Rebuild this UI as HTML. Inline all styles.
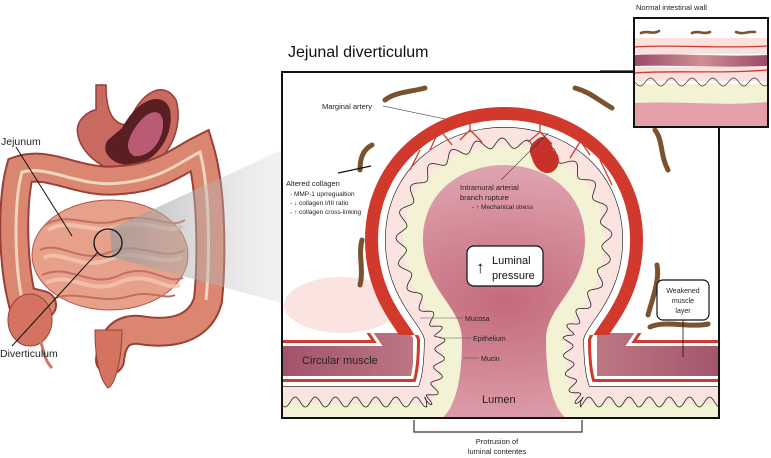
<!DOCTYPE html>
<html><head><meta charset="utf-8"><style>
html,body{margin:0;padding:0;background:#fff;}
svg{display:block;font-family:"Liberation Sans",sans-serif;}
</style></head><body>
<svg id="s" width="771" height="458" viewBox="0 0 771 458" xmlns="http://www.w3.org/2000/svg">
<defs>
<radialGradient id="lum" cx="0.5" cy="0.45" r="0.6"><stop offset="0" stop-color="#c46a7c"/><stop offset="1" stop-color="#e9b8bf"/></radialGradient>
<linearGradient id="mus" x1="0" x2="1"><stop offset="0" stop-color="#9c4a66"/><stop offset="0.5" stop-color="#cf8f92"/><stop offset="1" stop-color="#9c4a66"/></linearGradient>
<linearGradient id="wedge" x1="0" x2="1"><stop offset="0" stop-color="#999" stop-opacity="0.7"/><stop offset="1" stop-color="#ccc" stop-opacity="0.25"/></linearGradient>
<clipPath id="box"><rect x="283" y="73" width="436" height="344"/></clipPath>
<clipPath id="bot"><path d="M283,333 L413,333 L413,417 L283,417 Z M597,333 L719,333 L719,417 L597,417 Z"/></clipPath>
<clipPath id="dome"><rect x="283" y="73" width="436" height="262"/></clipPath>
</defs>

<g>
<path d="M96,85 L106,85 C106,110 112,125 128,125 C140,90 165,80 176,100 C185,130 165,172 128,172 C100,172 80,150 78,135 C74,120 90,110 96,110 Z" fill="#c86a60" stroke="#9a3d36" stroke-width="1.5"/>
<path d="M122,128 C140,95 165,92 170,110 C175,135 155,165 130,165 C110,165 100,150 108,140 Z" fill="#5a1f22"/>
<path d="M135,128 C148,108 162,108 163,122 C164,140 150,158 134,156 C124,150 128,138 135,128 Z" fill="#b95b72"/>
<path d="M42,305 L22,300 C12,260 12,200 20,170 C50,160 80,185 120,180 C160,178 180,160 200,150 C212,190 212,260 208,300 C200,330 170,335 140,330 C120,328 112,340 110,360" fill="none" stroke="#9a4038" stroke-width="30" stroke-linecap="round"/>
<path d="M42,305 L22,300 C12,260 12,200 20,170 C50,160 80,185 120,180 C160,178 180,160 200,150 C212,190 212,260 208,300 C200,330 170,335 140,330 C120,328 112,340 110,360" fill="none" stroke="#db8670" stroke-width="26" stroke-linecap="round" stroke-dasharray="11 2"/>
<path d="M22,300 C14,260 14,200 22,172 C50,165 80,188 120,183 C160,180 180,162 200,152 C210,190 210,260 206,300" fill="none" stroke="#f0d6bc" stroke-width="3"/>
<ellipse cx="30" cy="320" rx="22" ry="26" fill="#d4735f" stroke="#9a4038"/>
<path d="M95,330 C95,360 100,380 108,388 C115,385 122,360 122,330 Z" fill="#d4735f" stroke="#9a4038"/>
<path d="M40,340 C44,350 44,360 52,368" fill="none" stroke="#c77b6a" stroke-width="3"/>
<ellipse cx="110" cy="255" rx="78" ry="55" fill="#e7a08a" stroke="#b0584a"/>
<g fill="none" stroke="#c0705f" stroke-width="2">
<path d="M45,225 C70,210 90,230 120,220 C150,212 170,230 185,220"/>
<path d="M40,250 C60,240 80,265 110,252 C140,240 160,262 185,250"/>
<path d="M42,275 C70,262 90,290 120,275 C150,262 165,285 183,278"/>
<path d="M55,298 C80,290 100,305 130,296 C150,290 165,300 175,295"/>
</g>
<g fill="none" stroke="#f5c6b2" stroke-width="4" opacity="0.8">
<path d="M48,230 C70,216 90,236 120,226 C150,218 168,236 182,226"/>
<path d="M44,258 C60,248 80,272 110,259 C140,247 160,268 182,257"/>
<path d="M46,283 C70,270 90,297 120,282 C150,270 165,292 180,285"/>
</g>
<path d="M110,229 L282,150 L282,303 L112,257 Z" fill="url(#wedge)"/>
<circle cx="108" cy="243" r="14" fill="none" stroke="#111" stroke-width="1.3"/>
<line x1="16" y1="147" x2="72" y2="236" stroke="#111" stroke-width="1"/>
<line x1="12" y1="346" x2="98" y2="252" stroke="#111" stroke-width="1"/>
<text x="1" y="145" font-size="10.5" fill="#222">Jejunum</text>
<text x="0" y="357" font-size="10.5" fill="#222">Diverticulum</text>
</g>

<text x="288" y="57" font-size="16" fill="#111">Jejunal diverticulum</text>
<rect x="282" y="72" width="437" height="346" fill="#fff" stroke="#111" stroke-width="2"/>
<g clip-path="url(#box)">
<ellipse cx="342" cy="305" rx="58" ry="28" fill="#fbe3df"/>
<g id="layers"></g>
</g>
<rect x="282" y="72" width="437" height="346" fill="none" stroke="#111" stroke-width="2"/>

<text x="322" y="109" font-size="7.5" fill="#222">Marginal artery</text>
<line x1="383" y1="106" x2="445" y2="119" stroke="#222" stroke-width="0.6"/>
<text x="286" y="186" font-size="7.5" fill="#222">Altered collagen</text>
<text x="290" y="196" font-size="6.5" fill="#222">- MMP-1 uprregualtion</text>
<text x="290" y="205" font-size="6.5" fill="#222">- ↓ collagen I/III ratio</text>
<text x="290" y="214" font-size="6.5" fill="#222">- ↑ collagen cross-linking</text>
<line x1="338" y1="173" x2="371" y2="166" stroke="#111" stroke-width="1.2"/>
<text x="460" y="190" font-size="7.5" fill="#222">Intramural arterial</text>
<text x="460" y="200" font-size="7.5" fill="#222">branch rupture</text>
<text x="472" y="209" font-size="6.5" fill="#222">- ↑ Mechanical stress</text>
<line x1="501" y1="180" x2="548" y2="133" stroke="#333" stroke-width="0.6"/>
<rect x="467" y="246" width="76" height="40" rx="7" fill="#fff" stroke="#111" stroke-width="1.2"/>
<text x="476" y="273" font-size="17" fill="#111">↑</text>
<text x="492" y="264" font-size="11" fill="#111">Luminal</text>
<text x="492" y="279" font-size="11" fill="#111">pressure</text>
<rect x="657" y="280" width="52" height="40" rx="6" fill="#fff" stroke="#111" stroke-width="1.2"/>
<text x="683" y="293" font-size="7" text-anchor="middle" fill="#222">Weakened</text>
<text x="683" y="303" font-size="7" text-anchor="middle" fill="#222">muscle</text>
<text x="683" y="313" font-size="7" text-anchor="middle" fill="#222">layer</text>
<line x1="683" y1="320" x2="683" y2="357" stroke="#111" stroke-width="0.8"/>
<text x="465" y="321" font-size="7" fill="#222">Mucosa</text>
<line x1="420" y1="318" x2="463" y2="318" stroke="#555" stroke-width="0.6"/>
<text x="473" y="341" font-size="7" fill="#222">Epithelium</text>
<line x1="440" y1="338" x2="471" y2="338" stroke="#555" stroke-width="0.6"/>
<text x="481" y="361" font-size="7" fill="#222">Mucin</text>
<line x1="463" y1="358" x2="479" y2="358" stroke="#555" stroke-width="0.6"/>
<text x="302" y="364" font-size="11" fill="#222">Circular muscle</text>
<text x="482" y="403" font-size="11" fill="#222">Lumen</text>
<path d="M414,420 L414,432 L582,432 L582,420" fill="none" stroke="#333" stroke-width="1.2"/>
<text x="497" y="444" font-size="7.5" text-anchor="middle" fill="#222">Protrusion of</text>
<text x="497" y="454" font-size="7.5" text-anchor="middle" fill="#222">luminal contentes</text>

<line x1="600" y1="71" x2="634" y2="71" stroke="#111" stroke-width="1.2"/>
<line x1="719" y1="127" x2="719" y2="140" stroke="#111" stroke-width="1.2"/>
<text x="636" y="10" font-size="7.5" fill="#222">Normal intestinal wall</text>
<rect x="634" y="18" width="134" height="109" fill="#fff"/>
<rect x="635" y="38" width="132" height="16" fill="#fbe1dd"/>
<path d="M635,47 C670,44 720,49 767,46" fill="none" stroke="#d0392b" stroke-width="1.3"/>
<path d="M635,55 C680,53 720,57 767,55 L767,66 C720,68 680,65 635,66 Z" fill="url(#mus)"/>
<rect x="635" y="67" width="132" height="14" fill="#fbe1dd"/>
<path d="M635,73 C670,70 720,74 767,70" fill="none" stroke="#d0392b" stroke-width="1.3"/>
<rect x="635" y="84" width="132" height="19" fill="#f4f2d4"/>
<path id="iw" d="" fill="none" stroke="#333" stroke-width="0.7"/>
<path d="M635,103 C680,101 720,106 767,102 L767,127 L635,127 Z" fill="#e3a0a8"/>
<g fill="none" stroke="#7a5230" stroke-width="2.6" stroke-linecap="round">
<path d="M641,33 C648,30 652,35 659,31"/><path d="M692,33 C699,30 703,35 710,32"/><path d="M736,32 C743,35 748,31 755,32"/>
</g>
<rect x="634" y="18" width="134" height="109" fill="none" stroke="#111" stroke-width="2"/>
</svg>
<script>
(function(){
var NS="http://www.w3.org/2000/svg";
var g=document.getElementById('layers');
function el(t,a){var e=document.createElementNS(NS,t);for(var k in a)e.setAttribute(k,a[k]);return e;}
var closed="M250,424 L428,424 C455,422 462,380 462,340 C462,305 423,290 423,240 C423,140 585,140 585,240 C585,290 546,305 546,340 C546,380 553,422 580,424 L760,424 L760,470 L250,470 Z";
var open="M250,424 L428,424 C455,422 462,380 462,340 C462,305 423,290 423,240 C423,140 585,140 585,240 C585,290 546,305 546,340 C546,380 553,422 580,424 L760,424";
function band(w,c,par){(par||g).appendChild(el('path',{d:closed,fill:'none',stroke:c,'stroke-width':w*2,'stroke-linejoin':'round'}));}
var mg=el('g',{'clip-path':'url(#bot)'});g.appendChild(mg);
band(84,'#d0392b',mg);band(81,'#fff',mg);band(78,'url(#mus)',mg);
band(48,'#fff');
band(45,'#d0392b');
band(42,'#fff');
var dg=el('g',{'clip-path':'url(#dome)'});g.appendChild(dg);
band(58,'#d0392b',dg);band(45,'#fff',dg);
band(38,'#111');
band(37.4,'#fbe4e0');
band(20,'#f4f2d4');
g.appendChild(el('path',{d:closed,fill:'url(#lum)'}));
var tmp=el('path',{d:open});g.appendChild(tmp);
var L=tmp.getTotalLength(),d="";
for(var s=0;s<=L;s+=1){var p=tmp.getPointAtLength(s),q=tmp.getPointAtLength(Math.min(L,s+0.5));var tx=q.x-p.x,ty=q.y-p.y,n=Math.hypot(tx,ty)||1;tx/=n;ty/=n;
var off=22+5*Math.sin(s/3.2);var x=p.x+ty*off,y=p.y-tx*off;d+=(s?"L":"M")+x.toFixed(1)+","+y.toFixed(1);}
g.removeChild(tmp);
g.appendChild(el('path',{d:d,fill:'none',stroke:'#222','stroke-width':0.8}));
var vs=["M470,116 L470,130 L460,140 M470,130 L482,142","M540,116 L540,132 L528,142 M540,132 L552,144","M440,128 L430,150 M440,130 L452,145","M575,133 L590,155 M580,142 L570,158","M420,150 L410,170","M600,160 L612,185"];
vs.forEach(function(v){g.appendChild(el('path',{d:v,fill:'none',stroke:'#d0392b','stroke-width':1.3}));});
g.appendChild(el('path',{d:"M536,140 C545,132 552,142 553,150 C562,155 560,168 552,172 C544,176 534,168 532,158 C528,150 530,145 536,140 Z",fill:'#c8302a'}));
var cs=["M385,100 C395,92 410,92 425,88","M575,88 C590,92 598,100 612,108","M372,145 C362,150 360,160 360,170","M655,130 C663,140 660,155 668,170","M362,240 C358,255 364,270 360,285","M657,265 C660,280 652,300 648,315","M650,327 C665,320 690,328 708,324"];
cs.forEach(function(v){g.appendChild(el('path',{d:v,fill:'none',stroke:'#7a5230','stroke-width':5,'stroke-linecap':'round'}));});
var w="";for(var x=635;x<=767;x+=1){var y=84+4*Math.sin((x-635)/3.3)-2;w+=(x==635?"M":"L")+x+","+y.toFixed(1);}
document.getElementById('iw').setAttribute('d',w);
})();
</script>
</body></html>
